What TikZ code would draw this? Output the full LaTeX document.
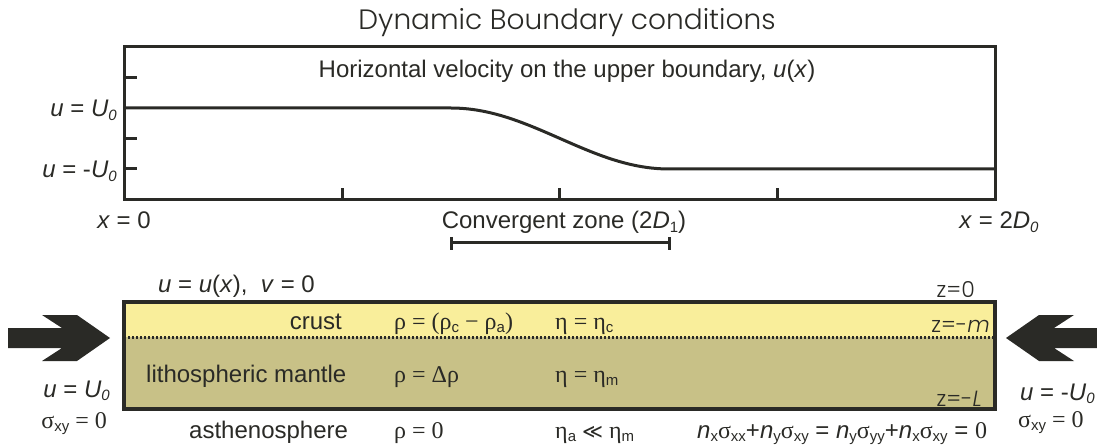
\documentclass[tikz,border=0pt]{standalone}
\usepackage{fontspec}
\setmainfont{Liberation Sans}
\newfontfamily\titlefont{Poppins Light}
\newfontfamily\grk{Liberation Serif}
\newfontfamily\symfont{DejaVu Sans}
\usetikzlibrary{calc}
\definecolor{ink}{RGB}{42,42,38}
\definecolor{crustcol}{RGB}{249,238,155}
\definecolor{mantlecol}{RGB}{200,193,135}
\newcommand{\lo}[1]{\raisebox{-0.3ex}{\fontsize{15}{15}\selectfont #1}}
\tikzset{
  % text styles
  lbl/.style={inner sep=0pt, text=ink, font=\fontsize{24}{28}\selectfont},
  glbl/.style={inner sep=0pt, text=ink, font=\grk\fontsize{24}{28}\selectfont},
  ttl/.style={inner sep=0pt, text=ink, font=\titlefont\fontsize{28}{33}\selectfont},
  zlbl/.style={inner sep=0pt, text=ink, font=\titlefont\fontsize{22}{26}\selectfont},
  % lines
  frame/.style={ink, line width=3pt},
  tick/.style={ink, line width=3pt},
  bigarrow/.style={fill=ink},
}

\begin{document}
\begin{tikzpicture}[x=1pt,y=-1pt]
\useasboundingbox (0,0) rectangle (1097,446);

% upper panel: u(x)
\node[ttl, anchor=base] (title) at (567,30) {Dynamic Boundary conditions};
\draw[frame] (124,47) rectangle (995,200);
\foreach \y in {78,138.5,169} \draw[tick] (124,\y) -- (137,\y);
\foreach \x in {342,559.5,777} \draw[tick] (\x,200) -- (\x,188);
\draw[ink, line width=3pt, line join=round] (124,108) -- (451,108)
  -- plot[domain=451:669, samples=40] ({\x},{138.5-30.5*cos((\x-451)*0.82569)})
  -- (995,169);
\node[lbl, anchor=base] (hvel) at (567,78) {Horizontal velocity on the upper boundary, \textit{u}(\textit{x})};
\node[lbl, anchor=base east] (uplus) at (117,117) {\textit{u} = \textit{U}\lo{\textit{0}}};
\node[lbl, anchor=base east] (uminus) at (117,178) {\textit{u} = -\textit{U}\lo{\textit{0}}};
\node[lbl, anchor=base] (xzero) at (124,229) {\textit{x} = 0};
\node[lbl, anchor=base] (xend) at (999,229) {\textit{x} = 2\textit{D}\lo{\textit{0}}};
\node[lbl, anchor=base] (czone) at (564,229) {Convergent zone (2\textit{D}\lo{1})};
\draw[tick] (451,243) -- (669,243);
\draw[tick] (451,237) -- (451,250) (669,237) -- (669,250);

% lower panel: layers
\fill[crustcol] (124,302) rectangle (995,337);
\fill[mantlecol] (124,337) rectangle (995,409);
\draw[ink, line width=3pt, dash pattern=on 2pt off 2pt] (124,337) -- (995,337);
\draw[ink, line width=3.5pt] (124,302) rectangle (995,409);

\fill[bigarrow] (8,328) -- (62,328) -- (42,315) -- (77,315) -- (110,338)
  -- (77,361) -- (42,361) -- (62,348) -- (8,348) -- cycle;
\fill[bigarrow] (1097,328) -- (1054,328) -- (1074,315) -- (1039,315) -- (1006,338)
  -- (1039,361) -- (1074,361) -- (1054,348) -- (1097,348) -- cycle;

\node[lbl, anchor=base west] (topbc) at (158,292) {\textit{u} = \textit{u}(\textit{x}),\ \ \textit{v} = 0};
\node[lbl, anchor=base east] (crust) at (342,329) {crust};
\node[glbl, anchor=base west] (rhoc) at (394,329) {ρ = (ρ\lo{\rmfamily c} − ρ\lo{\rmfamily a})};
\node[glbl, anchor=base west] (etac) at (555,329) {η = η\lo{\rmfamily c}};
\node[lbl, anchor=base west] (mantle) at (146,382) {lithospheric mantle};
\node[glbl, anchor=base west] (rhom) at (394,382) {ρ = Δρ};
\node[glbl, anchor=base west] (etam) at (555,382) {η = η\lo{\rmfamily m}};
\node[lbl, anchor=base west] (asth) at (189,438) {asthenosphere};
\node[glbl, anchor=base west] (rhoa) at (394,438) {ρ = 0};
\node[glbl, anchor=base west] (etaa) at (555,438) {η\lo{\rmfamily a} {\symfont\fontsize{20}{24}\selectfont ≪} η\lo{\rmfamily m}};
\node[lbl, anchor=base west] (stress) at (697,438)
  {\textit{n}\lo{x}{\grk σ}\lo{xx}+\textit{n}\lo{y}{\grk σ}\lo{xy} = \textit{n}\lo{y}{\grk σ}\lo{yy}+\textit{n}\lo{x}{\grk σ}\lo{xy} = {\grk 0}};
\node[zlbl, anchor=base east] (ztop) at (975,297) {z=0};
\node[zlbl, anchor=base east] (zmid) at (990,332) {z=-\textit{m}};
\node[zlbl, anchor=base east] (zbot) at (982,406) {z=-\textit{L}};

% side conditions
\node[lbl, anchor=base east] (uleft) at (110,397) {\textit{u} = \textit{U}\lo{\textit{0}}};
\node[glbl, anchor=base east] (sleft) at (107,428) {σ\lo{\rmfamily xy} = 0};
\node[lbl, anchor=base west] (uright) at (1020,400) {\textit{u} = -\textit{U}\lo{\textit{0}}};
\node[glbl, anchor=base west] (sright) at (1018,427) {σ\lo{\rmfamily xy} = 0};
\end{tikzpicture}
\end{document}
